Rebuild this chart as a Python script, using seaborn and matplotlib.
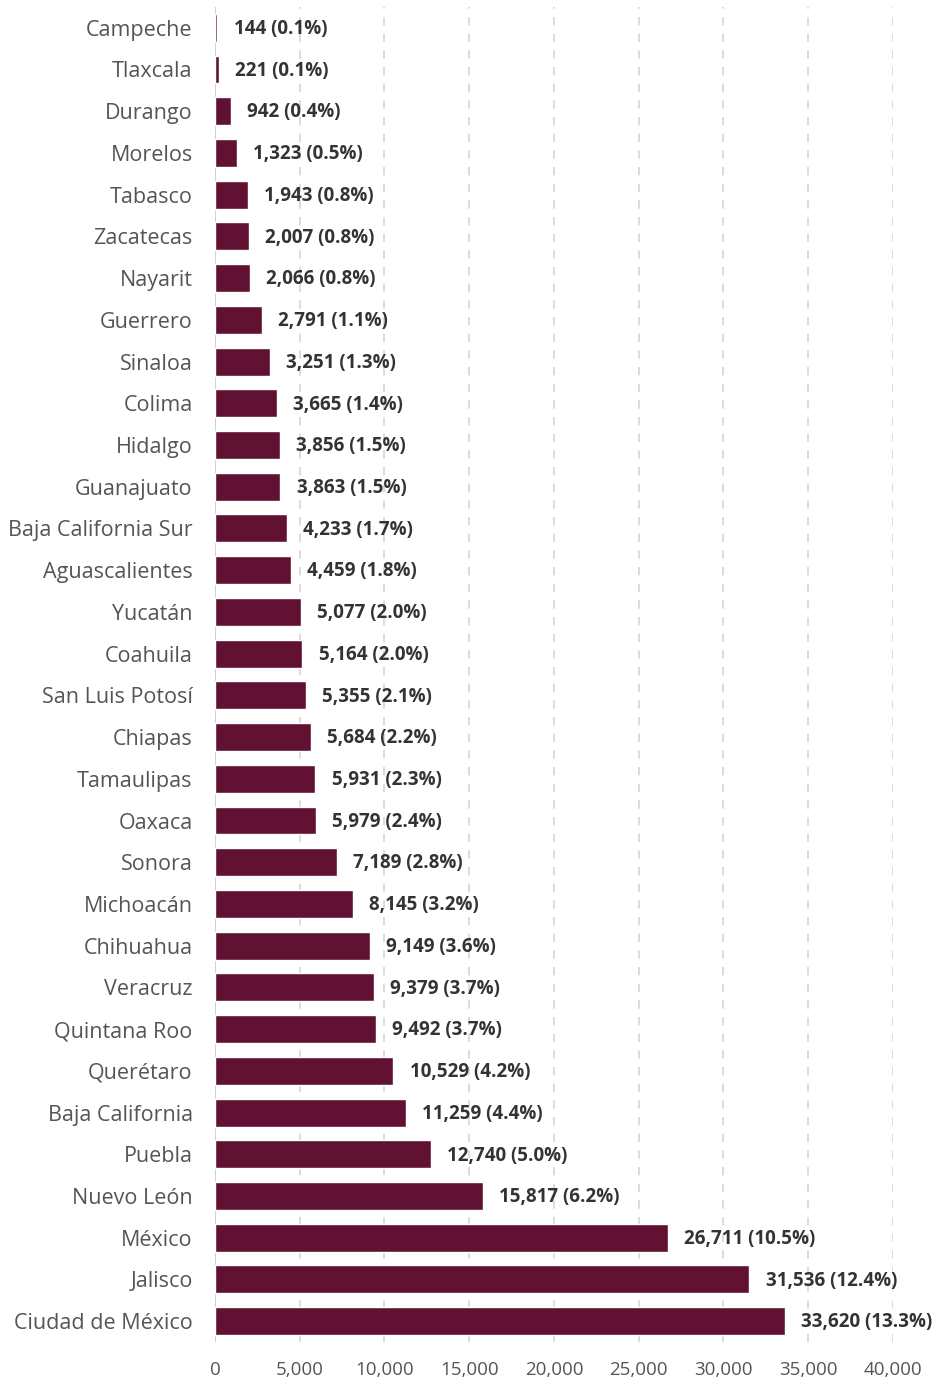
import seaborn as sns
import matplotlib.pyplot as plt
import pandas as pd

estados = ["Campeche", "Tlaxcala", "Durango", "Morelos", "Tabasco", "Zacatecas",
           "Nayarit", "Guerrero", "Sinaloa", "Colima", "Hidalgo", "Guanajuato",
           "Baja California Sur", "Aguascalientes", "Yucatán", "Coahuila",
           "San Luis Potosí", "Chiapas", "Tamaulipas", "Oaxaca", "Sonora",
           "Michoacán", "Chihuahua", "Veracruz", "Quintana Roo", "Querétaro",
           "Baja California", "Puebla", "Nuevo León", "México", "Jalisco",
           "Ciudad de México"]
valores = [144, 221, 942, 1323, 1943, 2007, 2066, 2791, 3251, 3665, 3856, 3863,
           4233, 4459, 5077, 5164, 5355, 5684, 5931, 5979, 7189, 8145, 9149,
           9379, 9492, 10529, 11259, 12740, 15817, 26711, 31536, 33620]
porcentajes = [0.1, 0.1, 0.4, 0.5, 0.8, 0.8, 0.8, 1.1, 1.3, 1.4, 1.5, 1.5, 1.7,
               1.8, 2.0, 2.0, 2.1, 2.2, 2.3, 2.4, 2.8, 3.2, 3.6, 3.7, 3.7, 4.2,
               4.4, 5.0, 6.2, 10.5, 12.4, 13.3]
ticks = [0, 5000, 10000, 15000, 20000, 25000, 30000, 35000, 40000]

data = pd.DataFrame({"estado": estados, "valor": valores, "pct": porcentajes})

sns.set_style("white")
plt.rcParams["font.family"] = ["Open Sans", "DejaVu Sans"]

fig = plt.figure(figsize=(9.33, 13.8), dpi=100)
ax = fig.add_axes([0.2304, 0.0275, 0.7266, 0.9675])

sns.barplot(data=data, x="valor", y="estado", orient="h", color="#611232",
            saturation=1, width=0.67, ax=ax, zorder=3)

# etiquetas de valor
for i, (v, p) in enumerate(zip(valores, porcentajes)):
    ax.text(v + 950, i + 0.03, f"{v:,} ({p:.1f}%)", va="center", ha="left",
            fontsize=13.5, fontweight="bold", color="#333333")

ax.set_xlim(0, 40000)
ax.set_ylim(len(estados) - 0.5, -0.5)
ax.set_xticks(ticks)
ax.set_xticklabels([f"{t:,}" for t in ticks])
ax.xaxis.grid(True, linestyle=(0, (5, 5)), color="#d6d6d6", linewidth=1.2, zorder=0)
ax.yaxis.grid(False)
for s in ax.spines.values():
    s.set_visible(False)
ax.axvline(0, color="#cccccc", linewidth=1.2, zorder=2)
ax.tick_params(axis="y", length=0, pad=16, labelsize=15.5, labelcolor="#555555")
ax.tick_params(axis="x", length=0, pad=14, labelsize=13.5, labelcolor="#555555")
ax.set_xlabel("")
ax.set_ylabel("")

plt.savefig("out.png", dpi=100)
